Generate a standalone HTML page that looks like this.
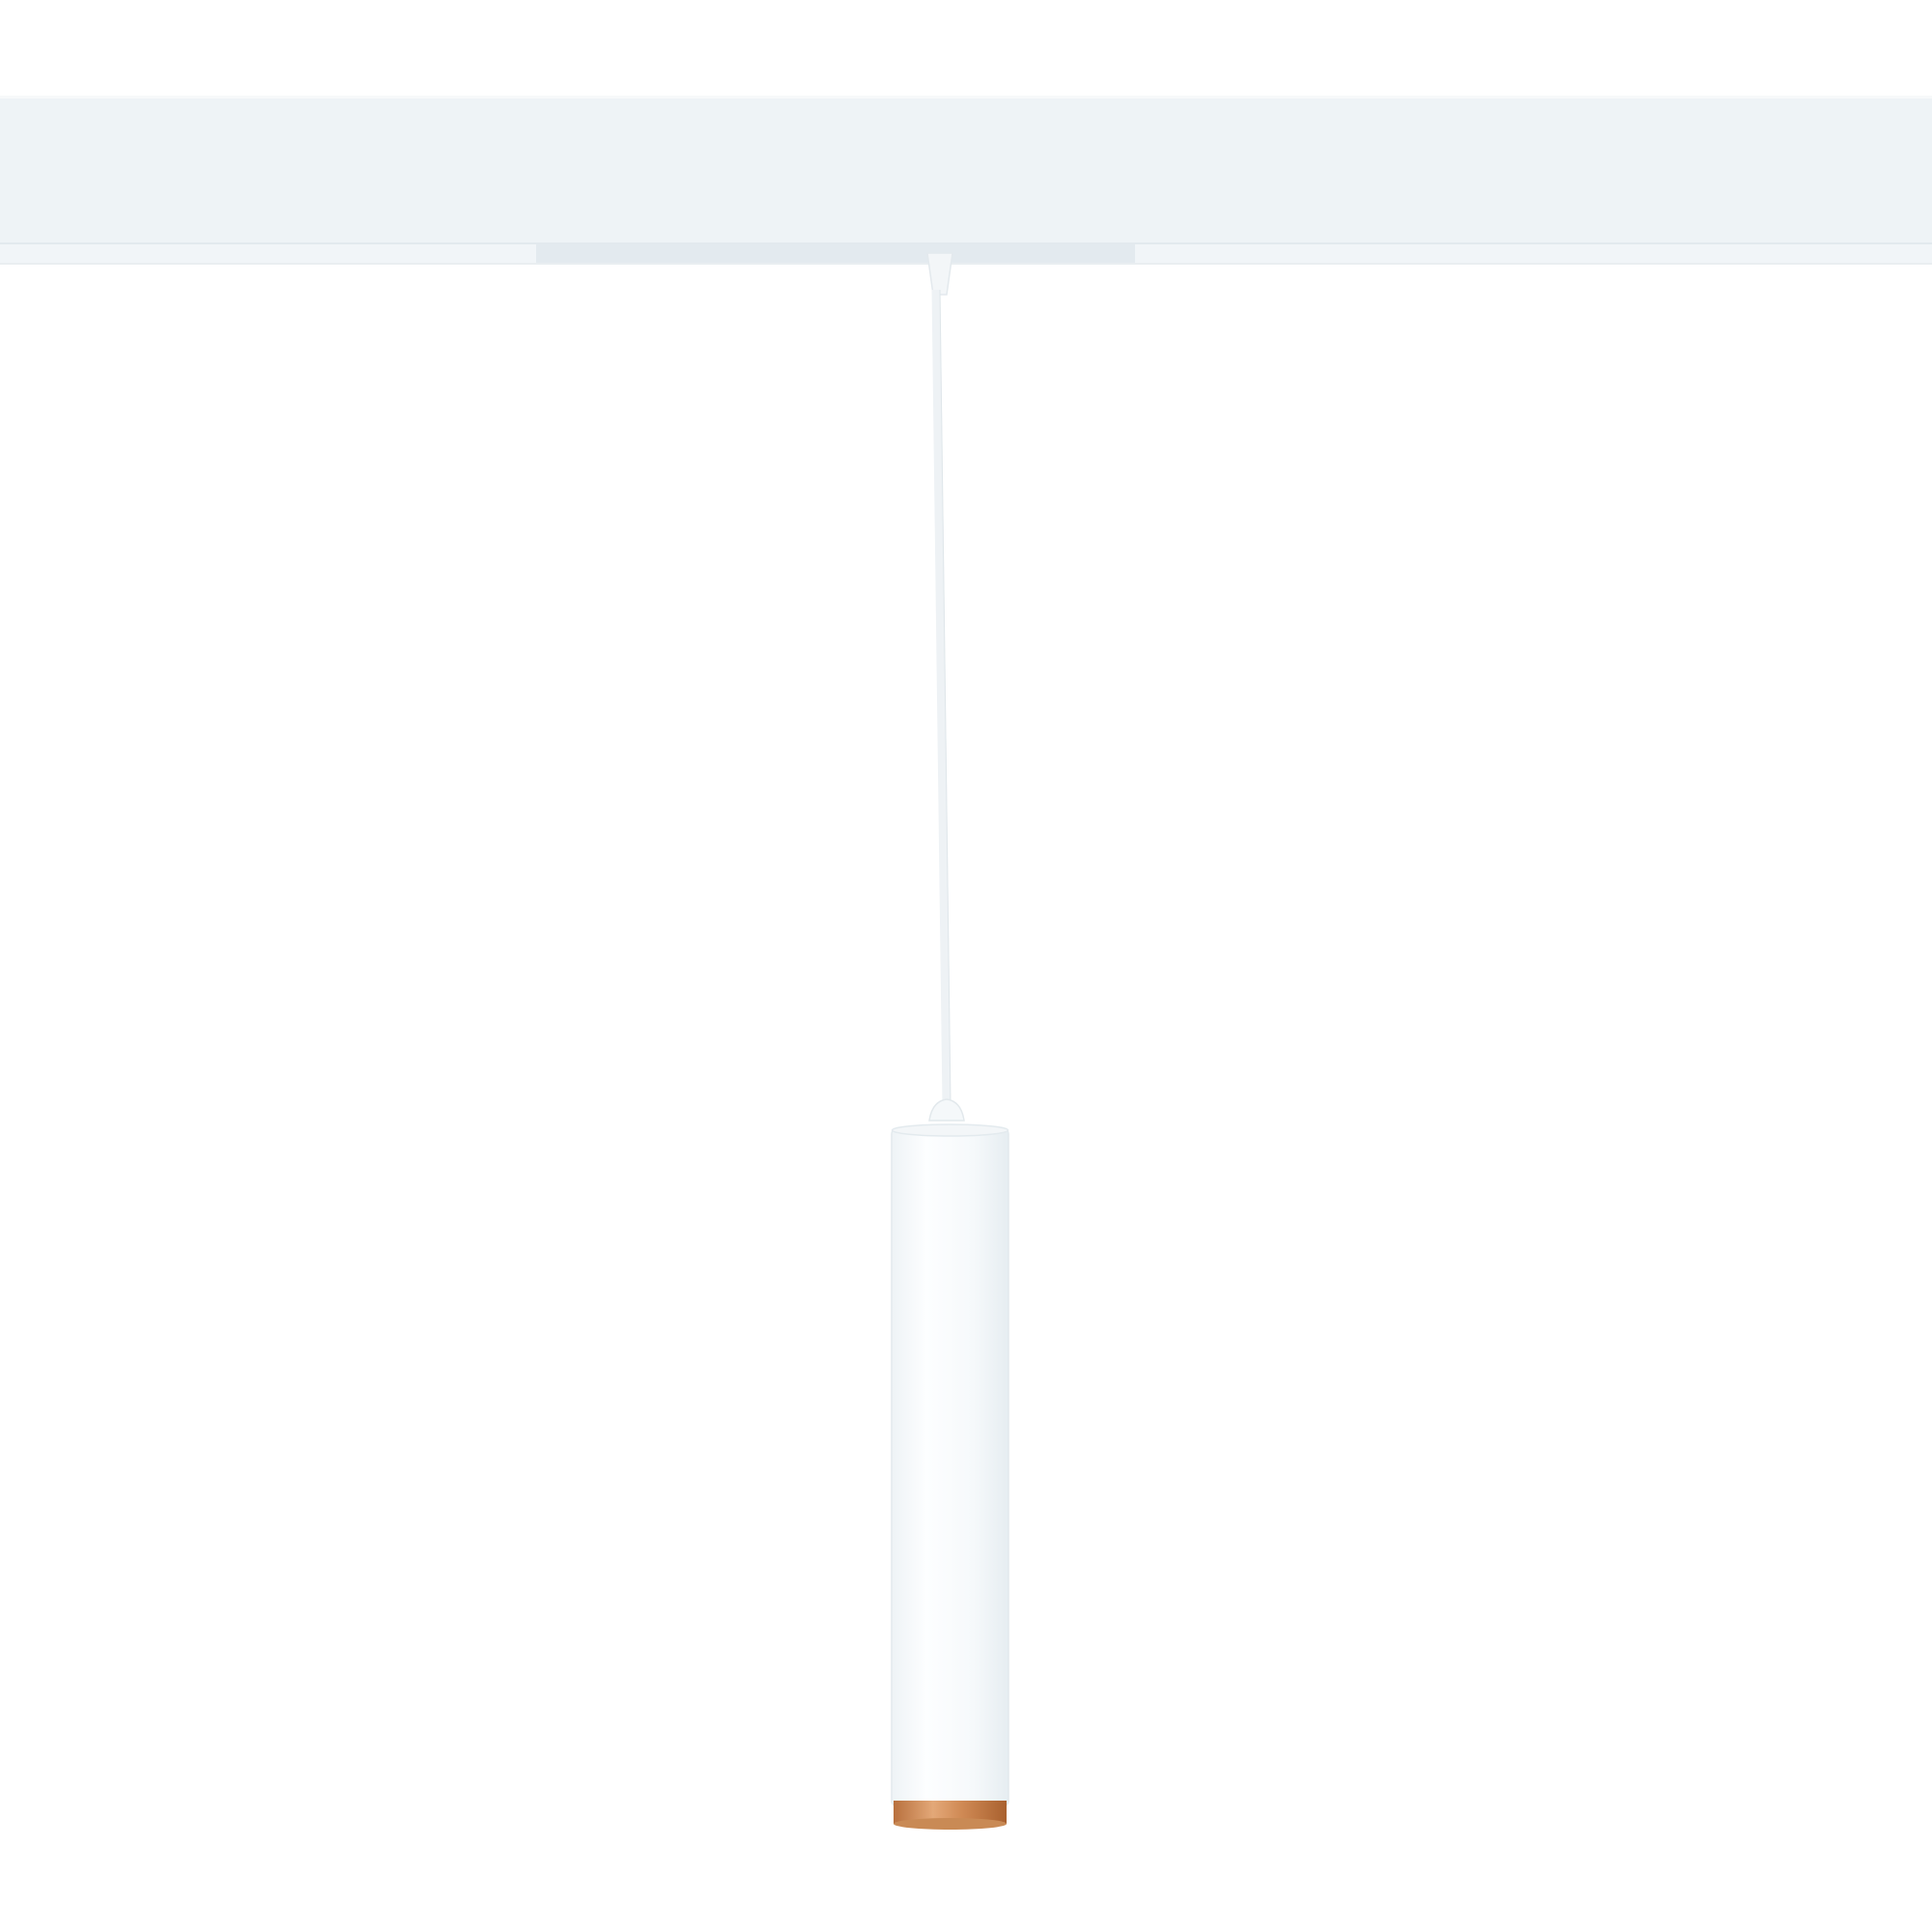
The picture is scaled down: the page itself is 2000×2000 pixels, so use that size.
<!DOCTYPE html>
<html><head><meta charset="utf-8"><style>
html,body{margin:0;padding:0;background:#fff;}
svg{display:block}
</style></head><body>
<svg width="2000" height="2000" viewBox="0 0 2000 2000">
<defs>
<linearGradient id="tube" x1="0" x2="1">
<stop offset="0" stop-color="#eef3f6"/><stop offset="0.3" stop-color="#fdfeff"/><stop offset="0.7" stop-color="#f6f9fb"/><stop offset="1" stop-color="#e6edf1"/>
</linearGradient>
<linearGradient id="copper" x1="0" x2="1">
<stop offset="0" stop-color="#b8703e"/><stop offset="0.35" stop-color="#e3a878"/><stop offset="0.6" stop-color="#d08a55"/><stop offset="1" stop-color="#a9612f"/>
</linearGradient>
</defs>
<rect width="2000" height="2000" fill="#ffffff"/>
<g>
<rect x="0" y="99" width="2000" height="153" fill="#eef3f6"/>
<rect x="0" y="99" width="2000" height="3" fill="#f7f9fa"/>
<rect x="0" y="252" width="2000" height="21" fill="#f1f5f8"/>
<rect x="555" y="252" width="620" height="21" fill="#e3eaef"/>
<line x1="0" y1="252" x2="2000" y2="252" stroke="#e2e9ee" stroke-width="2"/>
<line x1="0" y1="273" x2="2000" y2="273" stroke="#e9eef1" stroke-width="2"/>
</g>
<g>
<path d="M960 262 L986 262 L980 305 L966 305 Z" fill="#f3f6f8" stroke="#e3e9ed" stroke-width="1.5"/>
<path d="M969 300 L980 1145" stroke="#eef2f5" stroke-width="9" fill="none"/>
<path d="M969 300 L980 1145" stroke="#dfe6ea" stroke-width="1" fill="none" transform="translate(4,0)"/>
<path d="M962 1160 Q965 1140 980 1138 Q995 1140 998 1160 Z" fill="#f5f8fa" stroke="#e2e8ec" stroke-width="1.5"/>
<rect x="923" y="1168" width="121" height="702" rx="6" fill="url(#tube)" stroke="#e3eaee" stroke-width="1.5"/>
<ellipse cx="983.5" cy="1170" rx="60" ry="6" fill="#f3f6f8" stroke="#e3eaee" stroke-width="1.5"/>
<rect x="925" y="1864" width="117" height="24" fill="url(#copper)"/>
<ellipse cx="983.5" cy="1888" rx="58.5" ry="6" fill="#c98a55"/>
</g>
</svg>
</body></html>
